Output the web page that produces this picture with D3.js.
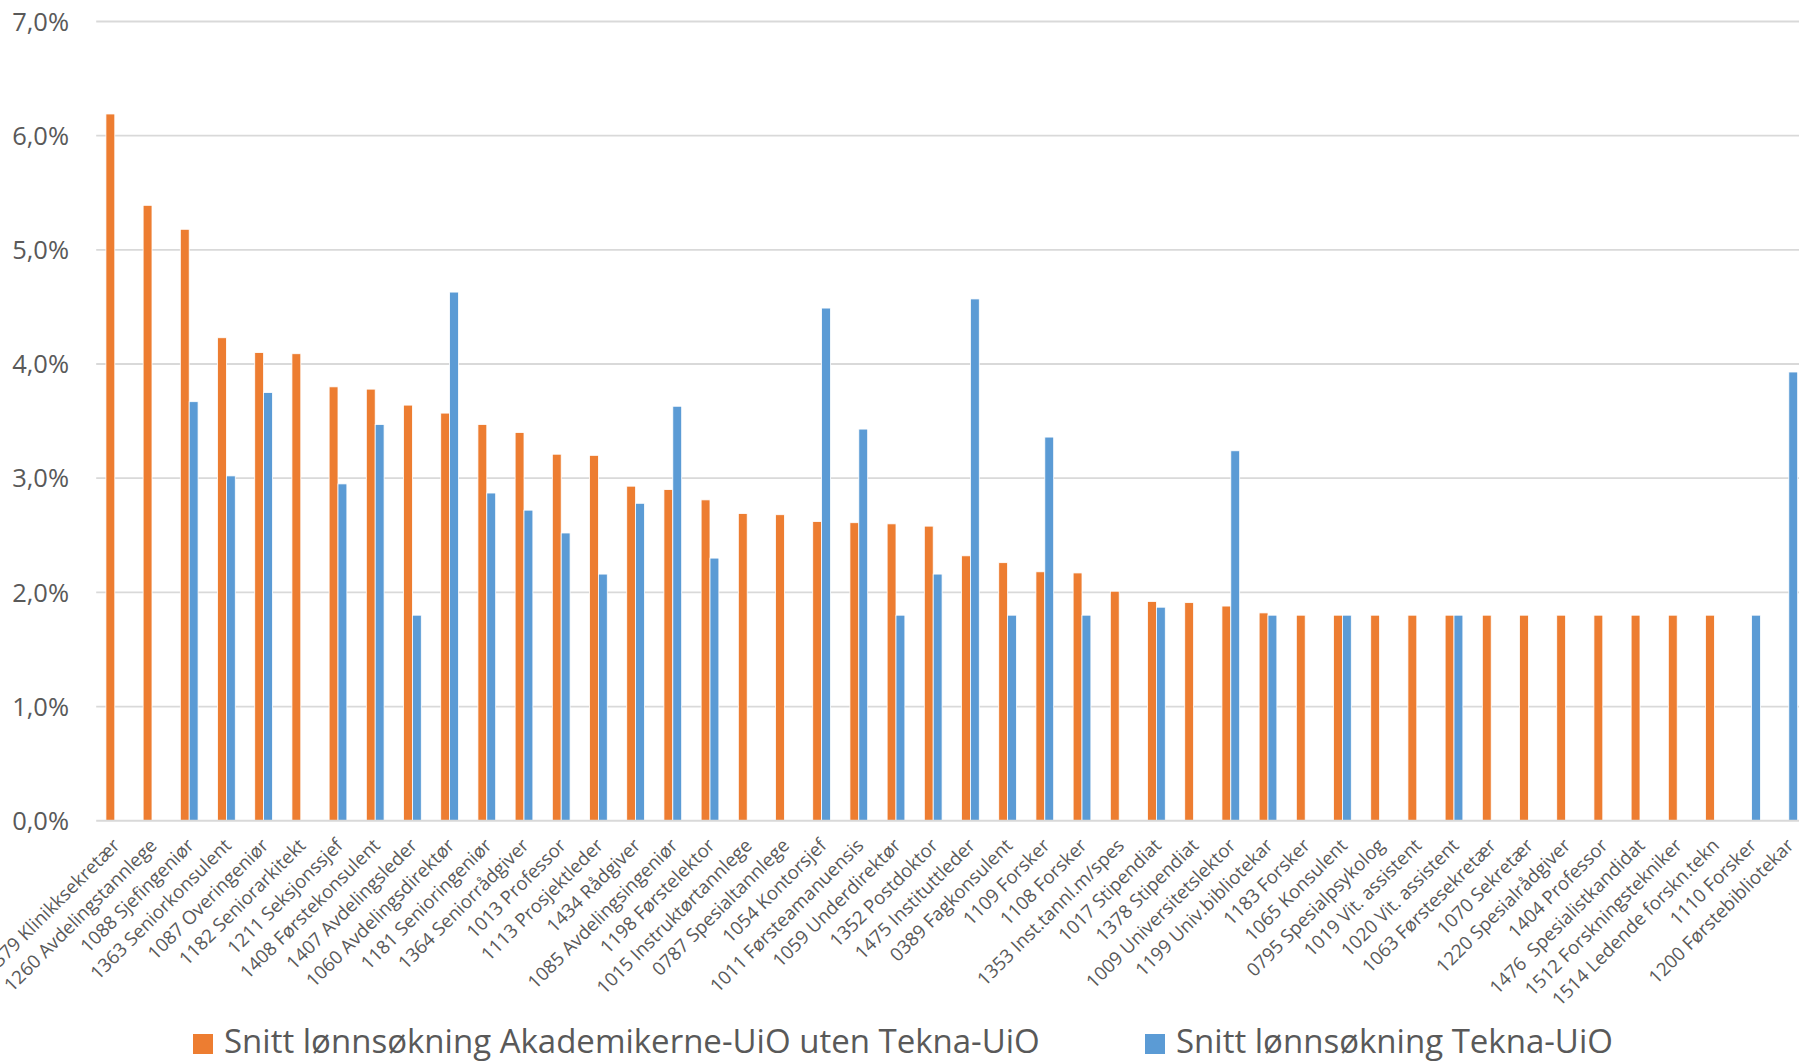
<!DOCTYPE html>
<html>
<head>
<meta charset="utf-8">
<title>Snitt lønnsøkning</title>
<style>
  body { margin: 0; background: #ffffff; overflow: hidden; }
  svg { display: block; font-family: "Open Sans", "Noto Sans", sans-serif; }
</style>
<script src="https://d3js.org/d3.v7.min.js"></script>
</head>
<body>
<script>

// stillingskoder, sorted like the original chart
const categories = [
  "0379 Klinikksekretær", "1260 Avdelingstannlege", "1088 Sjefingeniør", "1363 Seniorkonsulent",
  "1087 Overingeniør", "1182 Seniorarkitekt", "1211 Seksjonssjef", "1408 Førstekonsulent",
  "1407 Avdelingsleder", "1060 Avdelingsdirektør", "1181 Senioringeniør", "1364 Seniorrådgiver",
  "1013 Professor", "1113 Prosjektleder", "1434 Rådgiver", "1085 Avdelingsingeniør",
  "1198 Førstelektor", "1015 Instruktørtannlege", "0787 Spesialtannlege", "1054 Kontorsjef",
  "1011 Førsteamanuensis", "1059 Underdirektør", "1352 Postdoktor", "1475 Instituttleder",
  "0389 Fagkonsulent", "1109 Forsker", "1108 Forsker", "1353 Inst.tannl.m/spes",
  "1017 Stipendiat", "1378 Stipendiat", "1009 Universitetslektor", "1199 Univ.bibliotekar",
  "1183 Forsker", "1065 Konsulent", "0795 Spesialpsykolog", "1019 Vit. assistent",
  "1020 Vit. assistent", "1063 Førstesekretær", "1070 Sekretær", "1220 Spesialrådgiver",
  "1404 Professor", "1476  Spesialistkandidat", "1512 Forskningstekniker", "1514 Ledende forskn.tekn",
  "1110 Forsker", "1200 Førstebibliotekar"
];

// percent, null = no bar
const akademikerne = [
  6.19, 5.39, 5.18, 4.23, 4.10, 4.09, 3.80, 3.78, 3.64, 3.57, 3.47, 3.40,
  3.21, 3.20, 2.93, 2.90, 2.81, 2.69, 2.68, 2.62, 2.61, 2.60, 2.58, 2.32,
  2.26, 2.18, 2.17, 2.01, 1.92, 1.91, 1.88, 1.82, 1.80, 1.80, 1.80, 1.80,
  1.80, 1.80, 1.80, 1.80, 1.80, 1.80, 1.80, 1.80, null, null
];

const tekna = [
  null, null, 3.67, 3.02, 3.75, null, 2.95, 3.47, 1.80, 4.63, 2.87, 2.72,
  2.52, 2.16, 2.78, 3.63, 2.30, null, null, 4.49, 3.43, 1.80, 2.16, 4.57,
  1.80, 3.36, 1.80, null, 1.87, null, 3.24, 1.80, null, 1.80, null, null,
  1.80, null, null, null, null, null, null, null, 1.80, 3.93
];

const seriesNames = [
  "Snitt lønnsøkning Akademikerne-UiO uten Tekna-UiO",
  "Snitt lønnsøkning Tekna-UiO"
];
const seriesColors = ["#ED7D31", "#5B9BD5"];

const yTicks = [0, 1, 2, 3, 4, 5, 6, 7];

const W = 1799, H = 1062;
const left = 96.2, step = 37.2;
const y0 = 820.7, y7 = 21.5;

const svg = d3.select("body").append("svg")
  .attr("width", W)
  .attr("height", H);

let x = d3.scaleBand()
  .domain(categories)
  .range([left, left + step * categories.length])
  .padding(0);

let x1 = d3.scaleBand()
  .domain([0, 1])
  .range([0, x.bandwidth()])
  .paddingInner(0)
  .paddingOuter(1.095);

let y = d3.scaleLinear().domain([0, 7]).range([y0, y7]);

// gridlines + labels
let grid = svg.append("g");
grid.selectAll("line").data(yTicks.filter(t => t > 0)).enter().append("line")
  .attr("x1", left).attr("x2", W)
  .attr("y1", d => y(d)).attr("y2", d => y(d))
  .attr("stroke", "#D9D9D9")
  .attr("stroke-width", 1.8);

grid.selectAll("text").data(yTicks).enter().append("text")
  .attr("x", 69)
  .attr("y", d => y(d))
  .attr("dy", "0.36em")
  .attr("text-anchor", "end")
  .attr("fill", "#595959")
  .attr("font-size", "25.5px")
  .text(d => d.toFixed(1).replace(".", ",") + "%");

// bars
let rows = categories.map((c, i) => ({cat: c, vals: [akademikerne[i], tekna[i]]}));

let catSel = svg.selectAll("g.cat").data(rows).enter().append("g")
  .attr("class", "cat")
  .attr("transform", d => "translate(" + x(d.cat) + ",0)");

catSel.selectAll("rect")
  .data(d => d.vals.map((v, k) => ({k: k, v: v})).filter(e => e.v != null))
  .enter().append("rect")
  .attr("x", d => x1(d.k))
  .attr("width", x1.bandwidth())
  .attr("y", d => y(d.v))
  .attr("height", d => y(0) - y(d.v))
  .attr("fill", d => seriesColors[d.k])
  .attr("stroke", "#ffffff")
  .attr("stroke-width", 0.8);

// x axis line
svg.append("line")
  .attr("x1", left).attr("x2", W)
  .attr("y1", y(0)).attr("y2", y(0))
  .attr("stroke", "#D9D9D9")
  .attr("stroke-width", 2);

// category labels, rotated
svg.append("g").selectAll("text").data(categories).enter().append("text")
  .attr("transform", d => "translate(" + (x(d) + x.bandwidth() / 2 + 6) + "," + (y0 + 26) + ") rotate(-45)")
  .attr("text-anchor", "end")
  .attr("fill", "#595959")
  .attr("font-size", "18.7px")
  .attr("xml:space", "preserve")
  .text(d => d);

// legend
let legendX = [193, 1145];
let leg = svg.selectAll("g.legend").data(seriesNames).enter().append("g")
  .attr("class", "legend")
  .attr("transform", (d, i) => "translate(" + legendX[i] + ",0)");

leg.append("rect")
  .attr("x", 0).attr("y", 1034)
  .attr("width", 20).attr("height", 20)
  .attr("fill", (d, i) => seriesColors[i]);

leg.append("text")
  .attr("x", 31)
  .attr("y", 1053)
  .attr("fill", "#595959")
  .attr("font-size", "33px")
  .text(d => d);

</script>
</body>
</html>
